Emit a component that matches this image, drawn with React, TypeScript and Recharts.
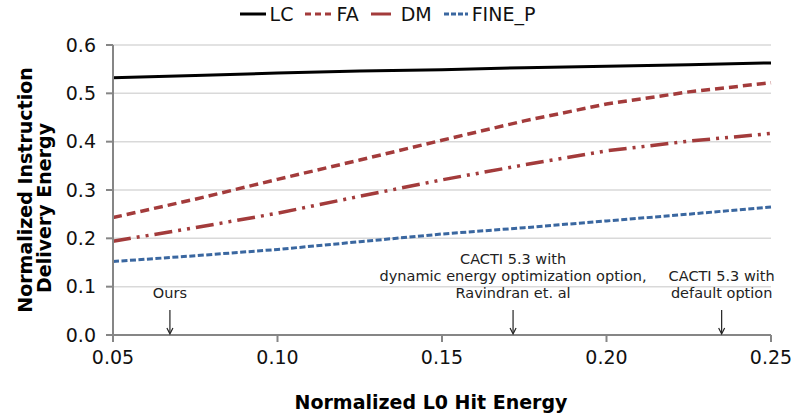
import { LineChart, Line, XAxis, YAxis, CartesianGrid, Legend, ReferenceDot } from "recharts";

const hitEnergy = [0.05, 0.075, 0.1, 0.125, 0.15, 0.175, 0.2, 0.225, 0.25];
const lc = [0.532, 0.537, 0.542, 0.546, 0.549, 0.553, 0.556, 0.559, 0.563];
const fa = [0.243, 0.281, 0.322, 0.362, 0.403, 0.443, 0.478, 0.503, 0.522];
const dm = [0.194, 0.222, 0.252, 0.287, 0.321, 0.352, 0.381, 0.401, 0.417];
const fineP = [0.152, 0.164, 0.177, 0.193, 0.209, 0.222, 0.236, 0.25, 0.265];

const xTicks = [0.05, 0.1, 0.15, 0.2, 0.25];
const yTicks = [0, 0.1, 0.2, 0.3, 0.4, 0.5, 0.6];

const notes = [
  { x: 0.0673, lines: ["Ours"] },
  { x: 0.1716, lines: ["CACTI 5.3 with", "dynamic energy optimization option,", "Ravindran et. al"] },
  { x: 0.235, lines: ["CACTI 5.3 with", "default option"] },
];

const data = hitEnergy.map((x, i) => ({ x, lc: lc[i], fa: fa[i], dm: dm[i], fineP: fineP[i] }));

const font = "'DejaVu Sans', Verdana, sans-serif";
const RED = "#a33b3b";
const BLUE = "#3a67a0";

const series = [
  { key: "lc", name: "LC", color: "#000", dash: undefined, legendDash: undefined, width: 3, icon: 26, gap: 4 },
  { key: "fa", name: "FA", color: RED, dash: "9 5", legendDash: "6 4", width: 3.5, icon: 27, gap: 4 },
  { key: "dm", name: "DM", color: RED, dash: "18 6 3 6 3 6", legendDash: undefined, width: 3.5, icon: 20, gap: 10 },
  { key: "fineP", name: "FINE_P", color: BLUE, dash: "6 2.5", legendDash: "5 2", width: 3, icon: 24, gap: 4 },
];

const Arrow = (lines: string[]) => (props: any) => {
  const { cx, cy } = props;
  const n = lines.length;
  return (
    <g>
      {lines.map((t, i) => (
        <text key={i} x={cx} y={cy - 37 - (n - 1 - i) * 17} textAnchor="middle" fontSize={14.5} fill="#222" fontFamily={font}>
          {t}
        </text>
      ))}
      <line x1={cx} y1={cy - 25} x2={cx} y2={cy - 2} stroke="#222" strokeWidth={1.2} />
      <path d={`M${cx - 3},${cy - 7} L${cx},${cy - 1} L${cx + 3},${cy - 7}`} fill="none" stroke="#222" strokeWidth={1.2} />
    </g>
  );
};

const LegendContent = () => (
  <div style={{ display: "flex", justifyContent: "center", fontFamily: font, fontSize: 19, color: "#111", marginLeft: -6 }}>
    {series.map((s) => (
      <div key={s.key} style={{ display: "flex", alignItems: "center", marginRight: 12 }}>
        <svg width={s.icon} height={10}>
          <line x1={0} y1={5} x2={s.icon} y2={5} stroke={s.color} strokeWidth={3} strokeDasharray={s.legendDash} />
        </svg>
        <span style={{ marginLeft: s.gap }}>{s.name}</span>
      </div>
    ))}
  </div>
);

const YTitle = (props: any) => {
  const { viewBox } = props;
  const cy = viewBox.y + viewBox.height / 2;
  return (
    <g fontFamily={font} fontWeight="bold" fontSize={19} fill="#000">
      <text transform={`translate(32, ${cy}) rotate(-90)`} textAnchor="middle">Normalized Instruction</text>
      <text transform={`translate(51, ${cy + 18}) rotate(-90)`} textAnchor="middle">Delivery Energy</text>
    </g>
  );
};

export default function App() {
  return (
    <div style={{ position: "absolute", left: 0, top: 0, width: 793, height: 414, background: "#fff" }}>
      <LineChart width={793} height={414} data={data} margin={{ top: 45, right: 22, bottom: 0, left: 0 }}>
        <CartesianGrid vertical={false} stroke="#d9d9d9" strokeWidth={1.5} />
        <XAxis
          dataKey="x"
          type="number"
          domain={[0.05, 0.25]}
          ticks={xTicks}
          tickFormatter={(v: number) => v.toFixed(2)}
          height={79}
          stroke="#868686"
          strokeWidth={2}
          tickSize={7}
          tickMargin={9}
          tick={{ fill: "#111", fontSize: 19, fontFamily: font }}
          label={{ value: "Normalized L0 Hit Energy", position: "insideBottom", offset: 5, dx: -11, fill: "#000", fontSize: 19, fontWeight: "bold", fontFamily: font }}
        />
        <YAxis
          type="number"
          domain={[0, 0.6]}
          ticks={yTicks}
          tickFormatter={(v: number) => v.toFixed(1)}
          width={113}
          stroke="#868686"
          strokeWidth={2}
          tickSize={7}
          tickMargin={10}
          tick={{ fill: "#111", fontSize: 19, fontFamily: font }}
          label={<YTitle />}
        />
        <Legend verticalAlign="middle" align="center" content={<LegendContent />} wrapperStyle={{ top: 3, left: 0, width: 793 }} />
        {series.map((s) => (
          <Line
            key={s.key}
            dataKey={s.key}
            name={s.name}
            stroke={s.color}
            strokeWidth={s.width}
            strokeDasharray={s.dash}
            dot={false}
            type="linear"
            isAnimationActive={false}
          />
        ))}
        {notes.map((n, i) => (
          <ReferenceDot key={i} x={n.x} y={0} r={0} shape={Arrow(n.lines)} />
        ))}
      </LineChart>
    </div>
  );
}
